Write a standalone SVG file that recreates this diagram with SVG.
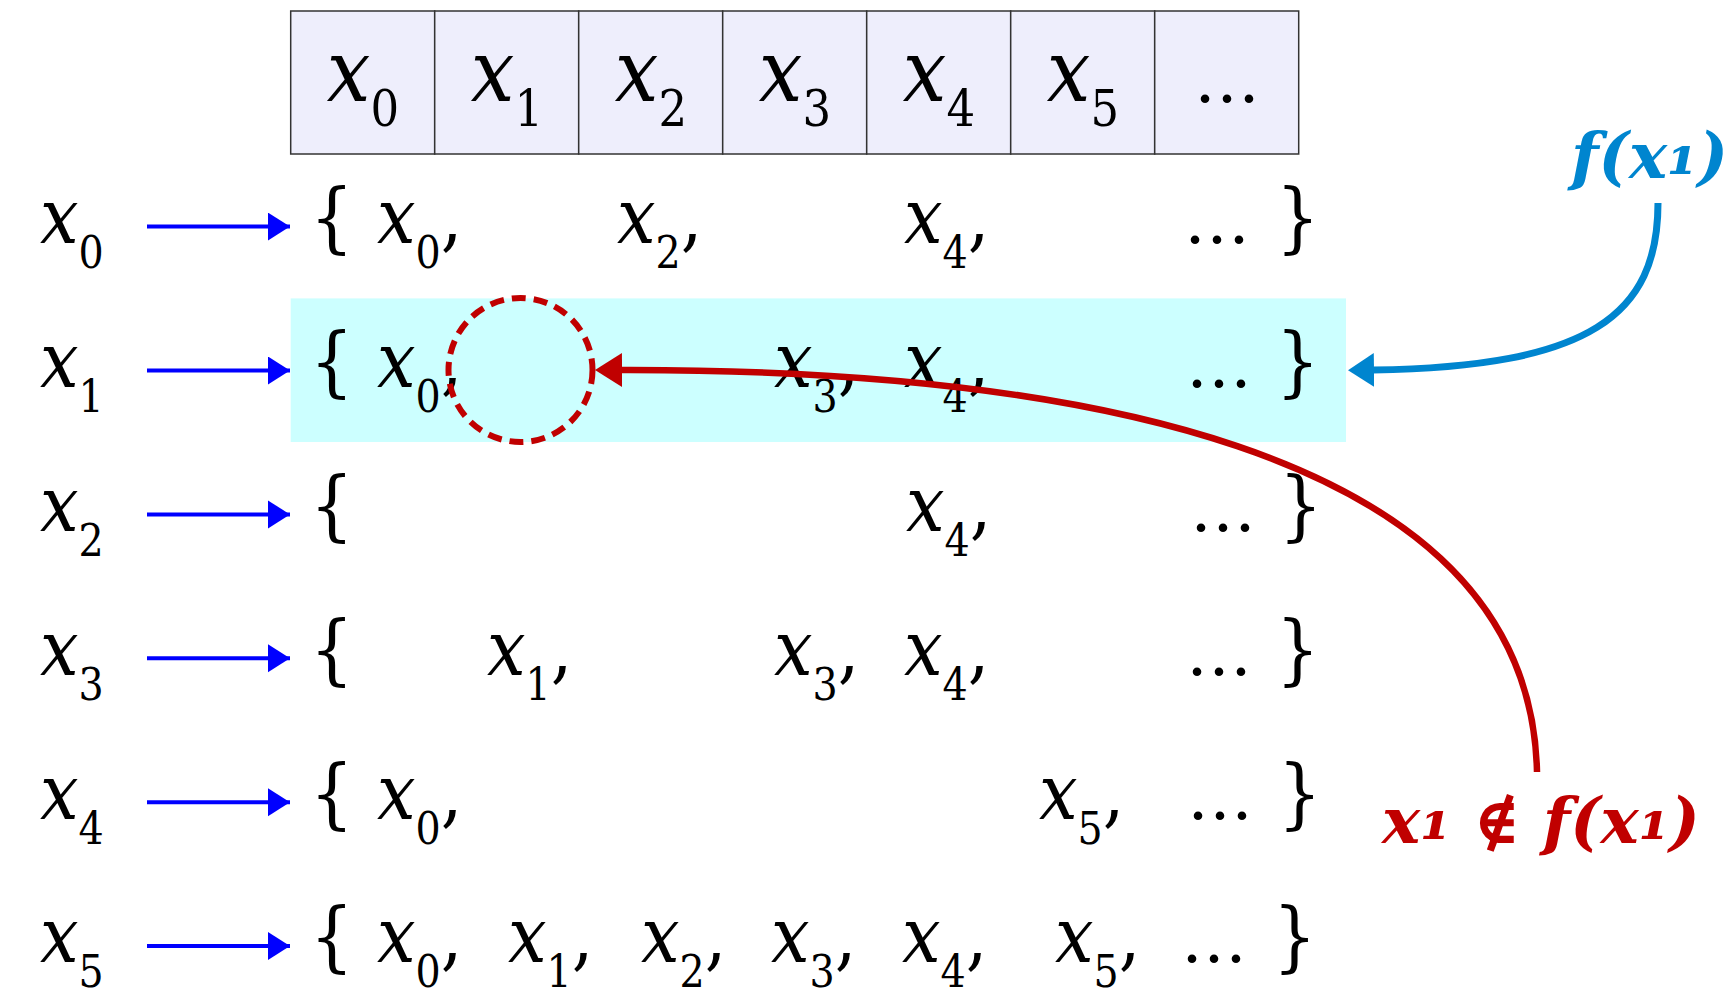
<svg xmlns="http://www.w3.org/2000/svg" width="1733" height="989" viewBox="0 0 1733 989">
<style>
.m{font-family:"DejaVu Serif Condensed","DejaVu Serif",serif;font-size:76px;fill:#000}
.h{font-family:"DejaVu Serif Condensed","DejaVu Serif",serif;font-size:86px;fill:#000}
.i{font-style:italic}
.s{font-size:44px}
.hs{font-size:50px}
.d{font-family:"DejaVu Serif",serif;font-size:66px;fill:#000}
.cell{fill:#EEEEFC;stroke:#333;stroke-width:1.5}
.ra{stroke:#0000FF;stroke-width:4;fill:none}
.lbl{font-family:"DejaVu Serif",serif;font-weight:bold;font-style:italic;font-size:64px}
.sub1{font-size:70px}
</style>
<defs>
<marker id="ab" markerUnits="userSpaceOnUse" markerWidth="24" markerHeight="30" refX="22" refY="14" orient="auto"><path d="M0,0 L22,14 L0,28 z" fill="#0000FF"/></marker>
<marker id="ar" markerUnits="userSpaceOnUse" markerWidth="30" markerHeight="36" refX="1" refY="17" orient="auto"><path d="M0,0 L27,17 L0,34 z" fill="#C00000"/></marker>
<marker id="ac" markerUnits="userSpaceOnUse" markerWidth="30" markerHeight="36" refX="1" refY="17" orient="auto"><path d="M0,0 L26,17 L0,34 z" fill="#0085CF"/></marker>
</defs>
<rect width="1733" height="989" fill="#fff"/>
<g id="header">
<rect class="cell" x="290.7" y="11" width="144" height="143"/>
<rect class="cell" x="434.7" y="11" width="144" height="143"/>
<rect class="cell" x="578.7" y="11" width="144" height="143"/>
<rect class="cell" x="722.7" y="11" width="144" height="143"/>
<rect class="cell" x="866.7" y="11" width="144" height="143"/>
<rect class="cell" x="1010.7" y="11" width="144" height="143"/>
<rect class="cell" x="1154.7" y="11" width="144" height="143"/>
<text class="h" x="363" y="101" text-anchor="middle"><tspan class="i">x</tspan><tspan class="hs" dy="25">0</tspan></text>
<text class="h" x="507" y="101" text-anchor="middle"><tspan class="i">x</tspan><tspan class="hs" dy="25">1</tspan></text>
<text class="h" x="651" y="101" text-anchor="middle"><tspan class="i">x</tspan><tspan class="hs" dy="25">2</tspan></text>
<text class="h" x="795" y="101" text-anchor="middle"><tspan class="i">x</tspan><tspan class="hs" dy="25">3</tspan></text>
<text class="h" x="939" y="101" text-anchor="middle"><tspan class="i">x</tspan><tspan class="hs" dy="25">4</tspan></text>
<text class="h" x="1083" y="101" text-anchor="middle"><tspan class="i">x</tspan><tspan class="hs" dy="25">5</tspan></text>
<text class="d" x="1227" y="102" text-anchor="middle">…</text>
</g>
<rect id="highlight" x="290.7" y="298.4" width="1055.3" height="143.6" fill="#CCFFFF"/>
<g id="row0">
<text class="m" x="40" y="243"><tspan class="i">x</tspan><tspan class="s" dy="25">0</tspan></text>
<text class="m" x="310" y="243">{</text>
<text class="m" x="377" y="243"><tspan class="i">x</tspan><tspan class="s" dy="25">0</tspan><tspan dy="-25">,</tspan></text>
<text class="m" x="617" y="243"><tspan class="i">x</tspan><tspan class="s" dy="25">2</tspan><tspan dy="-25">,</tspan></text>
<text class="m" x="904" y="243"><tspan class="i">x</tspan><tspan class="s" dy="25">4</tspan><tspan dy="-25">,</tspan></text>
<text class="d" x="1184" y="243">…</text>
<text class="m" x="1276" y="243">}</text>
</g>
<g id="row1">
<text class="m" x="40" y="387"><tspan class="i">x</tspan><tspan class="s" dy="25">1</tspan></text>
<text class="m" x="310" y="387">{</text>
<text class="m" x="377" y="387"><tspan class="i">x</tspan><tspan class="s" dy="25">0</tspan><tspan dy="-25">,</tspan></text>
<text class="m" x="774" y="387"><tspan class="i">x</tspan><tspan class="s" dy="25">3</tspan><tspan dy="-25">,</tspan></text>
<text class="m" x="904" y="387"><tspan class="i">x</tspan><tspan class="s" dy="25">4</tspan><tspan dy="-25">,</tspan></text>
<text class="d" x="1186" y="387">…</text>
<text class="m" x="1276" y="387">}</text>
</g>
<g id="row2">
<text class="m" x="40" y="531"><tspan class="i">x</tspan><tspan class="s" dy="25">2</tspan></text>
<text class="m" x="310" y="531">{</text>
<text class="m" x="906" y="531"><tspan class="i">x</tspan><tspan class="s" dy="25">4</tspan><tspan dy="-25">,</tspan></text>
<text class="d" x="1190" y="531">…</text>
<text class="m" x="1279" y="531">}</text>
</g>
<g id="row3">
<text class="m" x="40" y="675"><tspan class="i">x</tspan><tspan class="s" dy="25">3</tspan></text>
<text class="m" x="310" y="675">{</text>
<text class="m" x="487" y="675"><tspan class="i">x</tspan><tspan class="s" dy="25">1</tspan><tspan dy="-25">,</tspan></text>
<text class="m" x="774" y="675"><tspan class="i">x</tspan><tspan class="s" dy="25">3</tspan><tspan dy="-25">,</tspan></text>
<text class="m" x="904" y="675"><tspan class="i">x</tspan><tspan class="s" dy="25">4</tspan><tspan dy="-25">,</tspan></text>
<text class="d" x="1186" y="675">…</text>
<text class="m" x="1276" y="675">}</text>
</g>
<g id="row4">
<text class="m" x="40" y="819"><tspan class="i">x</tspan><tspan class="s" dy="25">4</tspan></text>
<text class="m" x="310" y="819">{</text>
<text class="m" x="377" y="819"><tspan class="i">x</tspan><tspan class="s" dy="25">0</tspan><tspan dy="-25">,</tspan></text>
<text class="m" x="1039" y="819"><tspan class="i">x</tspan><tspan class="s" dy="25">5</tspan><tspan dy="-25">,</tspan></text>
<text class="d" x="1187" y="819">…</text>
<text class="m" x="1278" y="819">}</text>
</g>
<g id="row5">
<text class="m" x="40" y="962"><tspan class="i">x</tspan><tspan class="s" dy="25">5</tspan></text>
<text class="m" x="310" y="962">{</text>
<text class="m" x="377" y="962"><tspan class="i">x</tspan><tspan class="s" dy="25">0</tspan><tspan dy="-25">,</tspan></text>
<text class="m" x="508" y="962"><tspan class="i">x</tspan><tspan class="s" dy="25">1</tspan><tspan dy="-25">,</tspan></text>
<text class="m" x="641" y="962"><tspan class="i">x</tspan><tspan class="s" dy="25">2</tspan><tspan dy="-25">,</tspan></text>
<text class="m" x="771" y="962"><tspan class="i">x</tspan><tspan class="s" dy="25">3</tspan><tspan dy="-25">,</tspan></text>
<text class="m" x="902" y="962"><tspan class="i">x</tspan><tspan class="s" dy="25">4</tspan><tspan dy="-25">,</tspan></text>
<text class="m" x="1055" y="962"><tspan class="i">x</tspan><tspan class="s" dy="25">5</tspan><tspan dy="-25">,</tspan></text>
<text class="d" x="1181" y="962">…</text>
<text class="m" x="1273" y="962">}</text>
</g>
<circle id="missing" cx="520.5" cy="370" r="72" fill="none" stroke="#C00000" stroke-width="6" stroke-dasharray="14 8"/>
<g id="connectors">
<line class="ra" x1="147" y1="226.6" x2="290" y2="226.6" marker-end="url(#ab)"/>
<line class="ra" x1="147" y1="370.5" x2="290" y2="370.5" marker-end="url(#ab)"/>
<line class="ra" x1="147" y1="514.4" x2="290" y2="514.4" marker-end="url(#ab)"/>
<line class="ra" x1="147" y1="658.3" x2="290" y2="658.3" marker-end="url(#ab)"/>
<line class="ra" x1="147" y1="802.2" x2="290" y2="802.2" marker-end="url(#ab)"/>
<line class="ra" x1="147" y1="946.1" x2="290" y2="946.1" marker-end="url(#ab)"/>
<path d="M1537,772 C1530,440 1050,369 621,370" fill="none" stroke="#C00000" stroke-width="6.5" marker-end="url(#ar)"/>
<path d="M1658,203 C1658,315 1590,367 1373,370" fill="none" stroke="#0085CF" stroke-width="7" marker-end="url(#ac)"/>
</g>
<g id="label-fx1">
<text class="lbl" x="1728" y="178" text-anchor="end" fill="#0085CF">f(x<tspan class="sub1" dy="-3">₁</tspan><tspan dy="3">)</tspan></text>
</g>
<g id="label-notin">
<text class="lbl" x="1382" y="843" fill="#C00000">x<tspan class="sub1" dy="-3">₁</tspan><tspan dy="3"> ∉ f(x</tspan><tspan class="sub1" dy="-3">₁</tspan><tspan dy="3">)</tspan></text>
</g>
</svg>
